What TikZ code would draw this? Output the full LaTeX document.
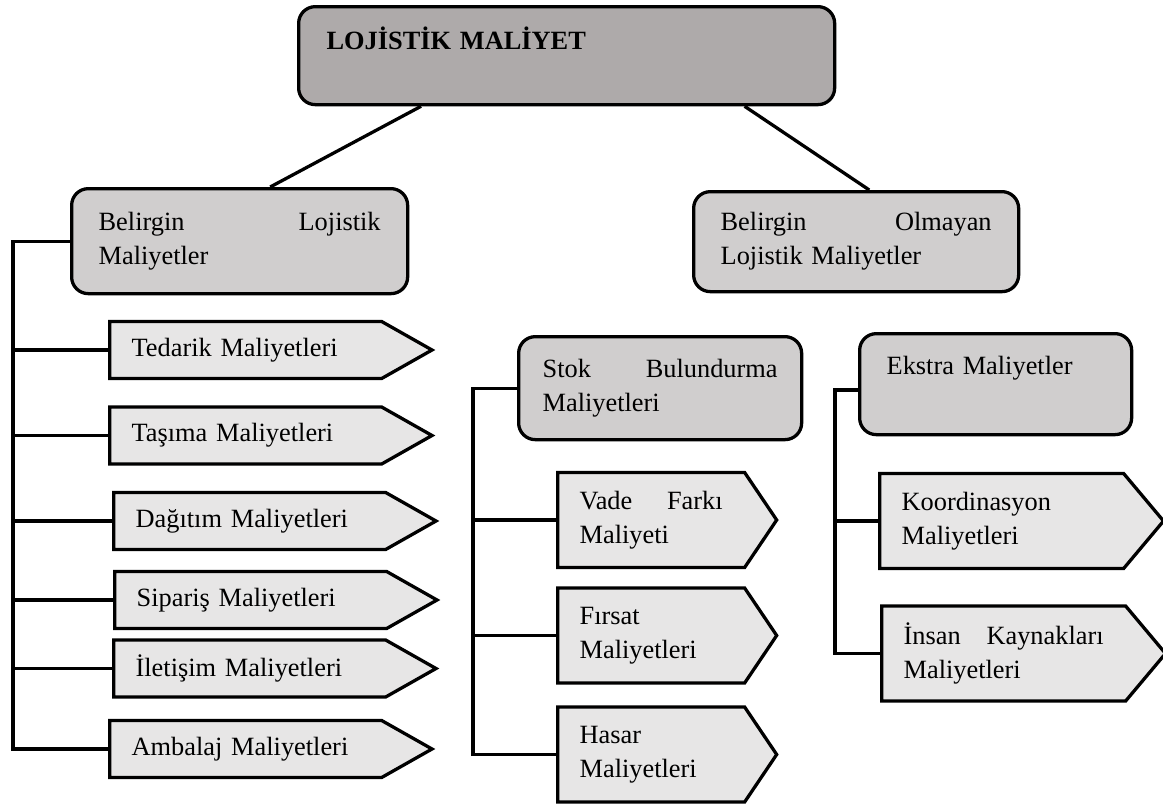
\documentclass[tikz,border=0pt]{standalone}
\usepackage{fontspec}
\setmainfont{Liberation Serif}
\usepackage{tikz}
\usetikzlibrary{shapes.symbols,calc}
\definecolor{FontColor}{HTML}{000000}
\definecolor{TopGray}{HTML}{AEAAAA}
\definecolor{BoxGray}{HTML}{D0CECE}
\definecolor{ArrowGray}{HTML}{E7E6E6}
\newcommand\nodelm{LOJİSTİK MALİYET}
\newcommand\nodebl{Belirgin\hfill Lojistik\\Maliyetler}
\newcommand\nodebol{Belirgin\hfill Olmayan\\Lojistik Maliyetler}
\newcommand\nodesb{Stok\hfill Bulundurma\\Maliyetleri}
\newcommand\nodeem{Ekstra Maliyetler}
\newcommand\nodeted{Tedarik Maliyetleri}
\newcommand\nodetas{Taşıma Maliyetleri}
\newcommand\nodedag{Dağıtım Maliyetleri}
\newcommand\nodesip{Sipariş Maliyetleri}
\newcommand\nodeile{İletişim Maliyetleri}
\newcommand\nodeamb{Ambalaj Maliyetleri}
\newcommand\nodevf{Vade\hfill Farkı\\Maliyeti}
\newcommand\nodefm{Fırsat\\Maliyetleri}
\newcommand\nodehm{Hasar\\Maliyetleri}
\newcommand\nodekm{Koordinasyon\\Maliyetleri}
\newcommand\nodeikm{İnsan\hfill Kaynakları\\Maliyetleri}
\tikzstyle{mynodestyle} = [draw=black, text=FontColor, line width=2.8pt, align=left, font=\fontsize{22.5pt}{29pt}\selectfont]
\tikzstyle{bx} = [mynodestyle, rectangle, rounded corners=0.5cm, fill=BoxGray, anchor=north west, inner xsep=0.81cm]
\tikzstyle{ar} = [mynodestyle, signal, signal to=east, fill=ArrowGray, anchor=west, inner xsep=0.66cm]
\tikzstyle{arl} = [ar, text width=6.84cm, minimum height=1.71cm, signal pointer angle=59]
\tikzstyle{arm} = [ar, text width=4.29cm, minimum height=2.85cm, signal pointer angle=112]
\tikzstyle{arr} = [ar, text width=6cm, minimum height=2.85cm, signal pointer angle=100]
\tikzstyle{conn} = [line width=2.8pt]

\begin{document}
\begin{tikzpicture}[x=0.03cm, y=-0.03cm]
\useasboundingbox (0,0) rectangle (1163,805);
\node[bx, fill=TopGray, font=\fontsize{22.5pt}{29pt}\selectfont\bfseries, text width=14.4cm, inner xsep=0.84cm, inner ysep=0.3cm, text height=0.99cm, text depth=1.35cm] (lm) at (297, 5) {\nodelm};
\node[bx, text width=8.46cm, minimum height=3.15cm] (bl) at (70, 187) {\nodebl};
\node[bx, text width=8.13cm, minimum height=3cm] (bol) at (692, 190) {\nodebol};
\node[bx, text width=7.05cm, inner xsep=0.72cm, minimum height=3.09cm] (sb) at (517, 335) {\nodesb};
\node[bx, text width=6.54cm, inner ysep=0.3cm, text height=0.93cm, text depth=1.5cm] (em) at (858, 332) {\nodeem};
\node[arl] (ted) at (108, 350) {\nodeted};
\node[arl] (tas) at (108, 435.5) {\nodetas};
\node[arl] (dag) at (112, 521) {\nodedag};
\node[arl] (sip) at (113, 600) {\nodesip};
\node[arl] (ile) at (112, 668.5) {\nodeile};
\node[arl] (amb) at (108, 749) {\nodeamb};
\node[arm] (vf) at (556, 520) {\nodevf};
\node[arm] (fm) at (556, 635.5) {\nodefm};
\node[arm] (hm) at (556, 754.5) {\nodehm};
\node[arr] (km) at (878, 521) {\nodekm};
\node[arr] (ikm) at (880, 653.5) {\nodeikm};
\coordinate (lt) at (13, 238);
\coordinate (mt) at (473, 387);
\coordinate (rt) at (835, 390);
\draw[conn] ($(lm.south west)!0.23!(lm.south east)$) -- ($(bl.north west)!0.59!(bl.north east)$);
\draw[conn] ($(lm.south west)!0.83!(lm.south east)$) -- ($(bol.north west)!0.54!(bol.north east)$);
\draw[conn] (bl.west) -- (bl.west -| lt) -- (lt |- amb.west) -- (amb.west);
\foreach \n in {ted, tas, dag, sip, ile}
  \draw[conn] (\n.west) -- (\n.west -| lt);
\draw[conn] (sb.west) -- (sb.west -| mt) -- (mt |- hm.west) -- (hm.west);
\foreach \n in {vf, fm}
  \draw[conn] (\n.west) -- (\n.west -| mt);
\draw[conn] (em.west |- rt) -- (rt) -- (rt |- ikm.west) -- (ikm.west);
\draw[conn] (km.west) -- (km.west -| rt);
\end{tikzpicture}
\end{document}
